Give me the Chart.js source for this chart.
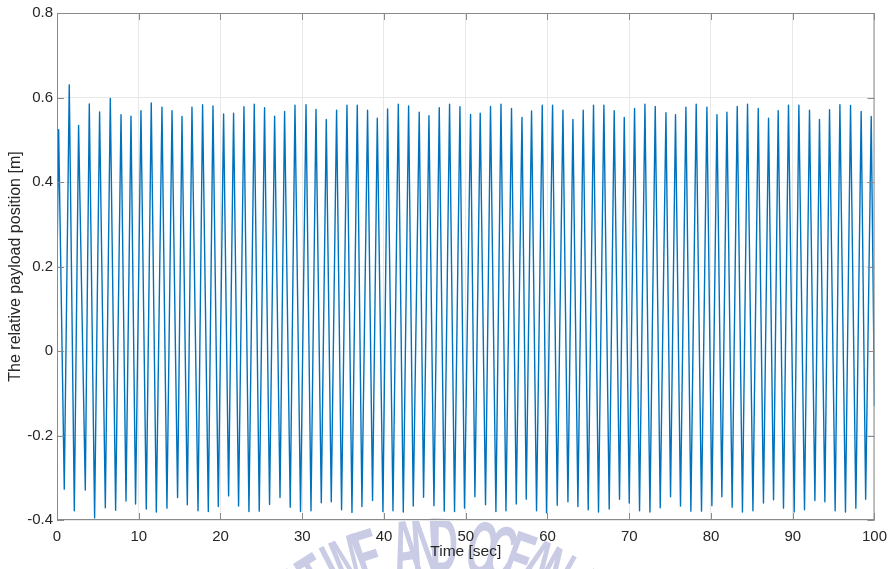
<!DOCTYPE html>
<html>
<head>
<meta charset="utf-8">
<script src="https://cdn.jsdelivr.net/npm/chart.js@4.4.1/dist/chart.umd.min.js"></script>
<style>
  html, body { margin: 0; padding: 0; background: #ffffff; }
  #wrap { width: 895px; height: 569px; position: relative; }
</style>
</head>
<body>
<div id="wrap"><canvas id="chart" width="895" height="569"></canvas></div>
<script>
// Relative payload position over time: local maxima, local minima and the two end samples.
const startTime = 0;
const startValue = 0.20;
const endTime = 100;
const endValue = -0.13;

const peakTimes = [
  0.20, 1.50, 2.64, 3.95, 5.21, 6.52, 7.83, 9.05, 10.27, 11.53,
  12.84, 14.07, 15.29, 16.51, 17.81, 19.08, 20.38, 21.60, 22.87, 24.13,
  25.39, 26.62, 27.84, 29.11, 30.46, 31.68, 32.94, 34.20, 35.47, 36.73,
  37.99, 39.18, 40.44, 41.75, 43.01, 44.31, 45.50, 46.76, 48.02, 49.29,
  50.59, 51.77, 53.03, 54.31, 55.60, 56.88, 58.05, 59.36, 60.62, 61.89,
  63.11, 64.37, 65.63, 66.90, 68.16, 69.39, 70.65, 71.92, 73.18, 74.49,
  75.66, 76.93, 78.19, 79.50, 80.73, 81.95, 83.21, 84.47, 85.78, 87.04,
  88.22, 89.48, 90.75, 92.05, 93.27, 94.50, 95.77, 97.07, 98.37, 99.60
];
const peakValues = [
  0.524, 0.630, 0.534, 0.585, 0.566, 0.598, 0.559, 0.556, 0.569, 0.587,
  0.577, 0.569, 0.555, 0.577, 0.583, 0.580, 0.561, 0.563, 0.578, 0.584,
  0.576, 0.556, 0.567, 0.582, 0.583, 0.572, 0.548, 0.570, 0.582, 0.582,
  0.570, 0.551, 0.573, 0.584, 0.580, 0.565, 0.557, 0.576, 0.584, 0.578,
  0.560, 0.563, 0.579, 0.584, 0.574, 0.553, 0.568, 0.582, 0.582, 0.570,
  0.548, 0.570, 0.582, 0.582, 0.569, 0.553, 0.574, 0.584, 0.579, 0.564,
  0.559, 0.577, 0.584, 0.577, 0.559, 0.565, 0.579, 0.584, 0.574, 0.551,
  0.569, 0.582, 0.582, 0.570, 0.548, 0.571, 0.583, 0.581, 0.567, 0.555
];

const troughTimes = [
  0.89, 2.12, 3.46, 4.60, 5.91, 7.17, 8.44, 9.61, 10.92, 12.15,
  13.45, 14.75, 15.94, 17.25, 18.51, 19.73, 20.99, 22.21, 23.48, 24.74,
  26.00, 27.28, 28.53, 29.79, 31.07, 32.33, 33.55, 34.81, 36.08, 37.30,
  38.60, 39.87, 41.10, 42.36, 43.58, 44.84, 46.11, 47.37, 48.63, 49.85,
  51.12, 52.42, 53.69, 54.92, 56.18, 57.40, 58.66, 59.88, 61.19, 62.50,
  63.72, 64.98, 66.24, 67.55, 68.81, 70.00, 71.26, 72.53, 73.79, 75.05,
  76.27, 77.54, 78.84, 80.11, 81.33, 82.59, 83.85, 85.13, 86.42, 87.65,
  88.87, 90.18, 91.44, 92.71, 93.93, 95.19, 96.45, 97.72, 98.92
];
const troughValues = [
  -0.327, -0.378, -0.329, -0.395, -0.371, -0.377, -0.355, -0.362, -0.374, -0.381,
  -0.372, -0.347, -0.364, -0.378, -0.380, -0.368, -0.343, -0.367, -0.380, -0.379,
  -0.363, -0.347, -0.370, -0.380, -0.378, -0.359, -0.357, -0.376, -0.382, -0.368,
  -0.354, -0.380, -0.378, -0.381, -0.367, -0.346, -0.366, -0.379, -0.380, -0.372,
  -0.345, -0.364, -0.380, -0.378, -0.362, -0.351, -0.378, -0.383, -0.365, -0.357,
  -0.368, -0.376, -0.381, -0.374, -0.351, -0.360, -0.378, -0.381, -0.371, -0.345,
  -0.367, -0.379, -0.379, -0.366, -0.345, -0.370, -0.381, -0.378, -0.360, -0.352,
  -0.372, -0.381, -0.376, -0.354, -0.357, -0.378, -0.381, -0.372, -0.351
];

// Axis ticks and their printed labels
const xTicks = [0, 10, 20, 30, 40, 50, 60, 70, 80, 90, 100];
const xTickLabels = ['0', '10', '20', '30', '40', '50', '60', '70', '80', '90', '100'];
const yTicks = [-0.4, -0.2, 0, 0.2, 0.4, 0.6, 0.8];
const yTickLabels = ['-0.4', '-0.2', '0', '0.2', '0.4', '0.6', '0.8'];

const xTitle = 'Time [sec]';
const yTitle = 'The relative payload position [m]';
const sealText = 'KOREA MARITIME AND OCEAN UNIVERSITY';

// Merge the extrema into one time-ordered trace
const points = [{ x: startTime, y: startValue }];
peakTimes.forEach((t, i) => points.push({ x: t, y: peakValues[i] }));
troughTimes.forEach((t, i) => points.push({ x: t, y: troughValues[i] }));
points.push({ x: endTime, y: endValue });
points.sort((a, b) => a.x - b.x);

const FONT = '"Liberation Sans", Arial, Helvetica, sans-serif';
const INK = '#262626';
const FRAME = '#8a8a8a';

// Faint seal lettering set on a circle whose top rises just under the plot
const sealPlugin = {
  id: 'seal',
  beforeDraw(chart) {
    const c = chart.ctx;
    c.save();
    c.font = 'bold 76px "Liberation Sans Narrow", "Liberation Sans", sans-serif';
    c.fillStyle = '#c9cce4';
    c.textAlign = 'center';
    c.textBaseline = 'top';
    const cx = 440, cy = 779, r = 260, sx = 0.5;
    const step = 4.7 * Math.PI / 180;
    const pivot = sealText.indexOf('AND') + 2;
    const offset = 1 * Math.PI / 180;
    [...sealText].forEach((ch, i) => {
      if (ch === ' ') return;
      const ang = offset + (i - pivot) * step;
      if (Math.abs(ang) > Math.PI / 2) return;
      c.save();
      c.translate(cx, cy);
      c.rotate(ang);
      c.translate(0, -r);
      c.scale(sx, 1);
      c.fillText(ch, 0, -7);
      c.restore();
    });
    c.restore();
  }
};

// Box outline with inward tick marks on all four sides
const framePlugin = {
  id: 'frame',
  afterDatasetsDraw(chart) {
    const { ctx: c, chartArea: a, scales } = chart;
    const len = 7;
    c.save();
    c.strokeStyle = FRAME;
    c.lineWidth = 1;
    c.beginPath();
    c.rect(a.left + 0.5, a.top + 0.5, a.right - a.left - 1, a.bottom - a.top - 1);
    xTicks.forEach(v => {
      const px = Math.round(scales.x.getPixelForValue(v)) + 0.5;
      c.moveTo(px, a.bottom); c.lineTo(px, a.bottom - len);
      c.moveTo(px, a.top); c.lineTo(px, a.top + len);
    });
    yTicks.forEach(v => {
      const py = Math.round(scales.y.getPixelForValue(v)) + 0.5;
      c.moveTo(a.left, py); c.lineTo(a.left + len, py);
      c.moveTo(a.right, py); c.lineTo(a.right - len, py);
    });
    c.stroke();
    c.restore();
  }
};

new Chart(document.getElementById('chart'), {
  type: 'line',
  data: {
    datasets: [{
      data: points,
      borderColor: '#0072BD',
      borderWidth: 1.4,
      borderJoinStyle: 'round',
      pointRadius: 0,
      tension: 0,
      fill: false
    }]
  },
  options: {
    responsive: false,
    animation: false,
    devicePixelRatio: 1,
    parsing: false,
    normalized: true,
    layout: { padding: { left: 0, top: 13, right: 19, bottom: 0 } },
    plugins: { legend: { display: false }, tooltip: { enabled: false } },
    scales: {
      x: {
        type: 'linear',
        min: 0,
        max: 100,
        afterFit(s) { s.height = 49; },
        afterBuildTicks(s) { s.ticks = xTicks.map(v => ({ value: v })); },
        ticks: {
          padding: 8,
          maxRotation: 0,
          autoSkip: false,
          color: INK,
          font: { family: FONT, size: 15 },
          callback: v => xTickLabels[xTicks.indexOf(v)]
        },
        grid: { color: '#e8e8e8', lineWidth: 1, drawTicks: false },
        border: { display: false },
        title: {
          display: true,
          text: xTitle,
          color: INK,
          font: { family: FONT, size: 15.5 },
          padding: { top: 0, bottom: 8 }
        }
      },
      y: {
        type: 'linear',
        min: -0.4,
        max: 0.8,
        afterFit(s) { s.width = 57; },
        afterBuildTicks(s) { s.ticks = yTicks.map(v => ({ value: v })); },
        ticks: {
          padding: 4,
          autoSkip: false,
          color: INK,
          font: { family: FONT, size: 15 },
          callback: v => {
            const i = yTicks.findIndex(t => Math.abs(t - v) < 1e-9);
            return i >= 0 ? yTickLabels[i] : '';
          }
        },
        grid: { color: '#e8e8e8', lineWidth: 1, drawTicks: false },
        border: { display: false },
        title: {
          display: true,
          text: yTitle,
          color: INK,
          font: { family: FONT, size: 16 },
          padding: { top: 6, bottom: 0 }
        }
      }
    }
  },
  plugins: [sealPlugin, framePlugin]
});
</script>
</body>
</html>
